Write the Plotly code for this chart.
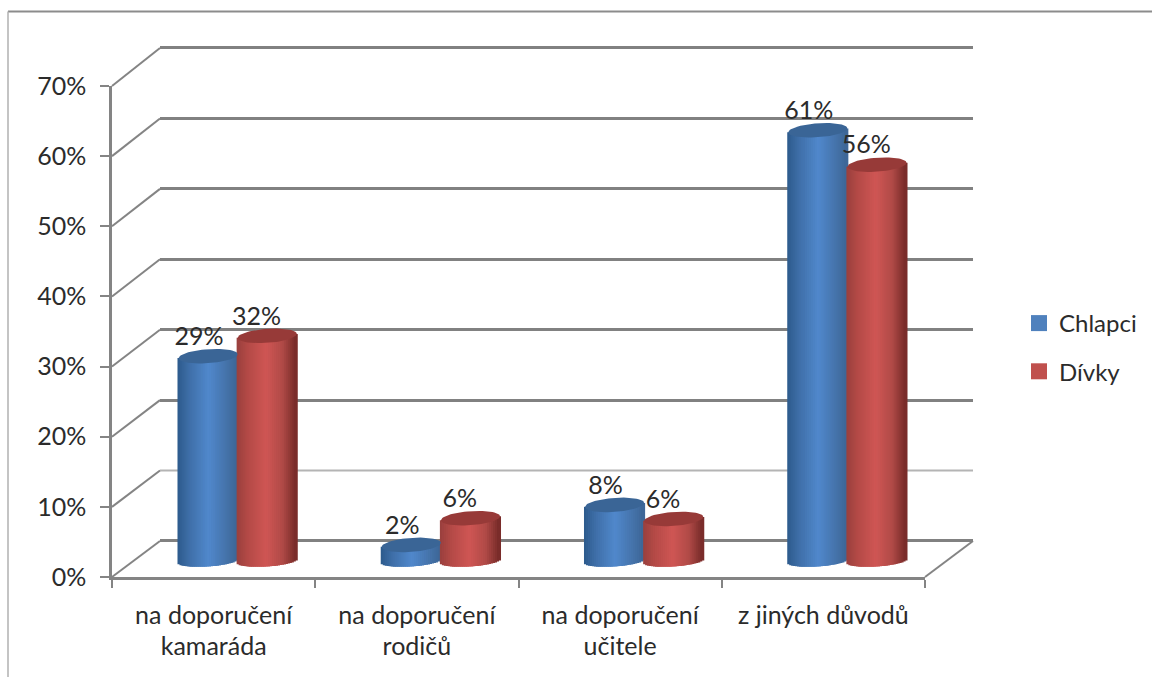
import numpy as np
import plotly.graph_objects as go

categories_line1 = ["na doporučení", "na doporučení", "na doporučení", "z jiných důvodů"]
categories_line2 = ["kamaráda", "rodičů", "učitele", ""]
chlapci = [29.2, 2.3, 8.0, 61.4]
divky = [32.1, 6.1, 6.0, 56.5]
label_chlapci = ["29%", "2%", "8%", "61%"]
label_divky = ["32%", "6%", "6%", "56%"]
y_ticks = [0, 10, 20, 30, 40, 50, 60, 70]
y_tick_labels = ["0%", "10%", "20%", "30%", "40%", "50%", "60%", "70%"]
wall_dark_grid = [0, 20, 30, 40, 50, 60, 70]
wall_light_grid = 10

W, H = 1152, 677
FONT = "Lato"
TXT = "#2b2b2b"
AX = "#848484"
FS = 25


def fx(p):
    return p / W


def fy(p):
    return 1 - p / H


# pixel frames of the three layers of the fake 3D box
FRONT = dict(x0=112, x1=925, y0=577, y1=86)
BACK = dict(x0=160, x1=973, y0=541, y1=48)
BACK_PX = (541 - 48) / 70
WALL_LOW, WALL_HIGH = -4, 74
CYL_Y0 = 561
PX_PER_UNIT = (577 - 86) / 70
CYL_LOW, CYL_HIGH = -10, 75
HALF = 0.1455          # half cylinder width, in category units
ELL_H = 7 / PX_PER_UNIT
ELL_B = 5.5 / PX_PER_UNIT
ELL_T = 2 / PX_PER_UNIT


def shade(stops, u):
    pos = [s[0] for s in stops]
    rgb = [[int(s[1][i:i + 2], 16) for i in (1, 3, 5)] for s in stops]
    c = [int(round(np.interp(u, pos, [r[k] for r in rgb]))) for k in range(3)]
    return "#%02x%02x%02x" % tuple(c)


BLUE_STOPS = [(-1, "#2c5a8c"), (-0.6, "#3f6fa8"), (0.05, "#5088cc"), (0.6, "#4675ad"), (1, "#3d6696")]
RED_STOPS = [(-1, "#99403d"), (-0.6, "#b54a47"), (0.0, "#cf5654"), (0.55, "#b04a47"), (1, "#762a28")]
BLUE_CAP = "#3a6596"
RED_CAP = "#973a38"
STRIPS = np.linspace(-1, 1, 31)
STRIPS = (STRIPS[:-1] + STRIPS[1:]) / 2


def cylinder(values, side, stops, cap, name):
    xs, bases, heights, colors = [], [], [], []
    traces = []
    for i, v in enumerate(values):
        cx = i + 0.5 + side * HALF
        for u in STRIPS:
            arc = np.sqrt(1 - u * u) * ELL_B
            tilt = u * ELL_T
            xs.append(cx + u * HALF)
            bases.append(tilt - arc)
            heights.append(v - (tilt - arc) + tilt)
            colors.append(shade(stops, u))
    traces.append(go.Bar(
        x=xs, y=heights, base=bases, width=[2 * HALF / 30 * 2] * len(xs),
        marker=dict(color=colors, line=dict(width=0)),
        xaxis="x2", yaxis="y2", showlegend=False, hoverinfo="skip", name=name,
    ))
    t = np.linspace(0, 2 * np.pi, 61)
    for i, v in enumerate(values):
        cx = i + 0.5 + side * HALF
        traces.append(go.Scatter(
            x=cx + HALF * np.cos(t),
            y=v + ELL_T * np.cos(t) + ELL_H * np.sin(t),
            fill="toself", fillcolor=cap, mode="lines", line=dict(width=0, color=cap),
            xaxis="x2", yaxis="y2", showlegend=False, hoverinfo="skip",
        ))
    return traces


fig = go.Figure()

# back wall layer (first subplot, drawn lowest)
fig.add_trace(go.Scatter(x=[None], y=[None], xaxis="x", yaxis="y", showlegend=False, hoverinfo="skip"))

for tr in cylinder(chlapci, -1, BLUE_STOPS, BLUE_CAP, "Chlapci"):
    fig.add_trace(tr)
for tr in cylinder(divky, 1, RED_STOPS, RED_CAP, "Dívky"):
    fig.add_trace(tr)

centers = np.arange(4) + 0.5
fig.add_trace(go.Scatter(
    x=list(centers - HALF - 0.045) + list(centers + HALF - 0.052),
    y=[v + 2.5 for v in chlapci] + [v + 2.5 for v in divky],
    text=label_chlapci + label_divky,
    mode="text", textposition="middle center",
    textfont=dict(family=FONT, size=FS, color=TXT),
    xaxis="x2", yaxis="y2", showlegend=False, hoverinfo="skip",
))

# legend entries live on the front-axes layer
fig.add_trace(go.Scatter(x=[None], y=[None], mode="markers", name="Chlapci", legendgroup="a",
                         marker=dict(symbol="square", size=16, color="#4f81bd"), xaxis="x3", yaxis="y3"))
fig.add_trace(go.Scatter(x=[None], y=[None], mode="markers", name="Dívky", legendgroup="b",
                         marker=dict(symbol="square", size=16, color="#c0504d"), xaxis="x3", yaxis="y3"))
fig.add_trace(go.Scatter(x=[None], y=[None], xaxis="x4", yaxis="y3", showlegend=False, hoverinfo="skip"))

shapes = [
    dict(type="line", xref="paper", yref="paper", x0=fx(8), x1=1, y0=fy(11.5), y1=fy(11.5),
         line=dict(color="#8c8c8c", width=2)),
    dict(type="line", xref="paper", yref="paper", x0=fx(8), x1=fx(8), y0=fy(11.5), y1=0,
         line=dict(color="#b0b0b0", width=1.5)),
    dict(type="line", xref="paper", yref="paper", x0=fx(FRONT["x1"]), x1=fx(BACK["x1"]),
         y0=fy(FRONT["y0"]), y1=fy(BACK["y0"]), line=dict(color=AX, width=2), layer="below"),
    dict(type="line", xref="x", yref="y", x0=0, x1=4, y0=wall_light_grid, y1=wall_light_grid,
         line=dict(color="#b4b4b4", width=2), layer="below"),
]
for v in y_ticks:
    shapes.append(dict(
        type="line", xref="paper", yref="paper", layer="below",
        x0=fx(FRONT["x0"]), x1=fx(BACK["x0"]),
        y0=fy(FRONT["y0"] + (FRONT["y1"] - FRONT["y0"]) * v / 70),
        y1=fy(BACK["y0"] + (BACK["y1"] - BACK["y0"]) * v / 70),
        line=dict(color=AX, width=2),
    ))

tick_font = dict(family=FONT, size=FS, color=TXT)
fig.update_layout(
    template="none",
    width=W, height=H,
    margin=dict(l=0, r=0, t=0, b=0, pad=0),
    paper_bgcolor="white", plot_bgcolor="rgba(0,0,0,0)",
    barmode="overlay",
    shapes=shapes,
    showlegend=True,
    legend=dict(x=fx(1019), y=fy(301), xanchor="left", yanchor="top",
                font=dict(family=FONT, size=24, color=TXT),
                traceorder="grouped", tracegroupgap=14,
                bgcolor="rgba(0,0,0,0)", itemwidth=30, itemclick=False, itemdoubleclick=False),
    # back wall
    xaxis=dict(domain=[fx(BACK["x0"]), fx(BACK["x1"])], range=[0, 4], visible=False, anchor="y",
               fixedrange=True, automargin=False),
    yaxis=dict(domain=[fy(BACK["y0"] - WALL_LOW * BACK_PX), fy(BACK["y0"] - WALL_HIGH * BACK_PX)],
               range=[WALL_LOW, WALL_HIGH], anchor="x", tickvals=wall_dark_grid,
               showticklabels=False, ticks="", showline=False, zeroline=False, showgrid=True,
               gridcolor="#818181", gridwidth=2.5, fixedrange=True, automargin=False),
    # cylinders
    xaxis2=dict(domain=[fx(136), fx(949)], range=[0, 4], visible=False, anchor="y2",
                fixedrange=True, automargin=False),
    yaxis2=dict(domain=[fy(CYL_Y0 - CYL_LOW * PX_PER_UNIT), fy(CYL_Y0 - CYL_HIGH * PX_PER_UNIT)],
                range=[CYL_LOW, CYL_HIGH], visible=False, anchor="x2", fixedrange=True, automargin=False),
    # front axes
    xaxis3=dict(domain=[fx(FRONT["x0"]), fx(FRONT["x1"])], range=[0, 4], anchor="y3",
                tickvals=list(centers), ticktext=categories_line1, tickfont=tick_font,
                ticks="", ticklen=0, ticklabelstandoff=14, automargin=False,
                showline=True, linecolor=AX, linewidth=2.5, showgrid=False, zeroline=False,
                minor=dict(tick0=0, dtick=1, ticks="outside", ticklen=8, tickcolor=AX, tickwidth=2, showgrid=False),
                fixedrange=True),
    yaxis3=dict(domain=[fy(FRONT["y0"]), fy(FRONT["y1"])], range=[0, 70], anchor="x3",
                tickvals=y_ticks, ticktext=y_tick_labels, tickfont=tick_font,
                ticks="outside", ticklen=9, tickcolor=AX, tickwidth=2, ticklabelstandoff=9, automargin=False,
                showline=True, linecolor=AX, linewidth=2.5, showgrid=False, zeroline=False, fixedrange=True),
    xaxis4=dict(overlaying="x3", anchor="y3", side="bottom", range=[0, 4],
                tickvals=list(centers), ticktext=categories_line2, tickfont=tick_font,
                ticks="", ticklabelstandoff=52, automargin=False, showline=False, showgrid=False,
                zeroline=False, fixedrange=True),
)

fig.write_html("out.html", config=dict(displayModeBar=False),
               post_script="document.body.style.margin='0';document.documentElement.style.overflow='hidden';")
